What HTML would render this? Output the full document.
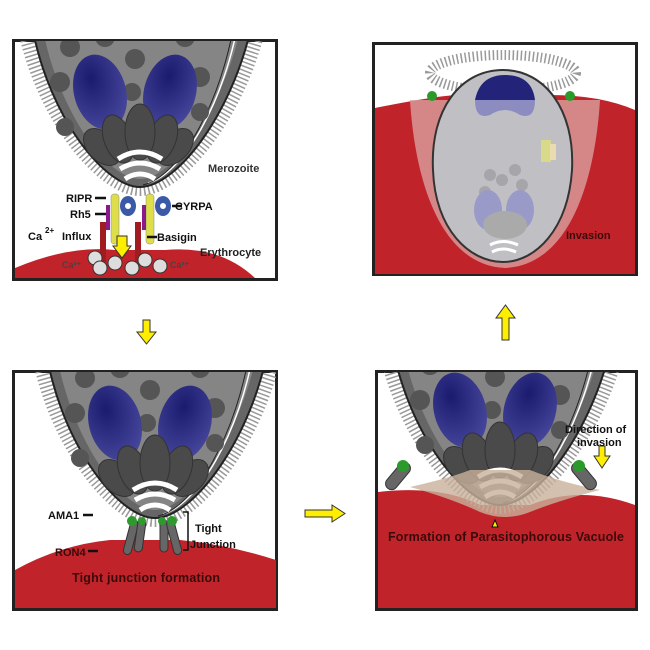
<!DOCTYPE html>
<html><head><style>html,body{margin:0;padding:0;background:#fff}svg{display:block}</style></head><body>
<svg width="650" height="650" viewBox="0 0 650 650" xmlns="http://www.w3.org/2000/svg" font-family="Liberation Sans, sans-serif" font-weight="bold">
<defs>
<radialGradient id="lob" cx="0.4" cy="0.3" r="0.8"><stop offset="0" stop-color="#1a1a6e"/><stop offset="1" stop-color="#4a4aa0"/></radialGradient>
<g id="mero">
 <path d="M-118,-175 C-105,-80 -40,2 0,2 C40,2 105,-80 122,-175" fill="none" stroke="#999" stroke-width="14" stroke-dasharray="1.5 2.5"/>
 <path d="M-110,-175 C-98,-80 -38,0 0,0 C38,0 98,-80 114,-175 Z" fill="#666" stroke="#222" stroke-width="2"/>
 <path d="M-100,-175 C-88,-85 -35,-8 0,-8 C35,-8 88,-85 104,-175 Z" fill="#858585"/>
 <path d="M8,-4 C40,-12 85,-80 100,-175" fill="none" stroke="#fff" stroke-width="1.5"/>
 <path d="M3,-2 C38,-10 82,-80 96,-175" fill="none" stroke="#222" stroke-width="1"/>
 <g fill="#555"><circle cx="-70" cy="-140" r="10"/><circle cx="-35" cy="-150" r="10"/><circle cx="-80" cy="-105" r="10"/><circle cx="-5" cy="-128" r="10"/><circle cx="45" cy="-150" r="10"/><circle cx="60" cy="-110" r="10"/><circle cx="-75" cy="-60" r="9"/><circle cx="60" cy="-75" r="9"/><circle cx="-8" cy="-95" r="9"/></g>
 <ellipse cx="-40" cy="-95" rx="26" ry="38" fill="url(#lob)" transform="rotate(-15 -40 -95)"/>
 <ellipse cx="30" cy="-95" rx="26" ry="38" fill="url(#lob)" transform="rotate(15 30 -95)"/>
 <g fill="#4a4a4a" stroke="#333"><ellipse cx="-38" cy="-40" rx="14" ry="22" transform="rotate(-45 -38 -40)"/><ellipse cx="35" cy="-40" rx="14" ry="22" transform="rotate(45 35 -40)"/><ellipse cx="-22" cy="-48" rx="14" ry="25" transform="rotate(-20 -22 -48)"/><ellipse cx="22" cy="-48" rx="14" ry="25" transform="rotate(20 22 -48)"/><ellipse cx="0" cy="-55" rx="15" ry="28"/></g>
 <path d="M-22,-28 Q0,-42 22,-28 M-20,-18 Q0,-30 20,-18 M-15,-8 Q0,-18 15,-8" stroke="#fff" stroke-width="5" fill="none"/>
</g>
<clipPath id="c1"><rect x="14" y="41" width="262" height="238"/></clipPath>
<clipPath id="c2"><rect x="375" y="44" width="261" height="230"/></clipPath>
<clipPath id="c3"><rect x="14" y="372" width="262" height="237"/></clipPath>
<clipPath id="c4"><rect x="377" y="372" width="259" height="237"/></clipPath>
</defs>

<rect x="12" y="39" width="266" height="242" fill="#222"/>
<rect x="15" y="42" width="260" height="236" fill="#fff"/>
<g clip-path="url(#c1)">
 <path d="M15,268 Q70,245 115,250 L165,250 Q220,245 255,278 L15,278 Z" fill="#c0242a"/>
 <use href="#mero" transform="translate(140,187)"/>
 <rect x="100" y="222" width="6" height="40" fill="#a01c20"/><rect x="135" y="222" width="6" height="40" fill="#a01c20"/>
 <g fill="#dede4a" stroke="#888" stroke-width="0.5"><rect x="111" y="194" width="8" height="50" rx="3"/><rect x="146" y="194" width="8" height="50" rx="3"/></g>
 <rect x="106" y="205" width="4" height="25" fill="#8a1a8a"/><rect x="142" y="205" width="4" height="25" fill="#8a1a8a"/>
 <g fill="#3a5aa8"><ellipse cx="128" cy="206" rx="8" ry="10"/><ellipse cx="163" cy="206" rx="8" ry="10"/></g>
 <g fill="#fff"><circle cx="128" cy="206" r="3"/><circle cx="163" cy="206" r="3"/></g>
 <polygon points="117,236 127,236 127,246 131,246 122,258 113,246 117,246" fill="#ffee00" stroke="#333"/>
 <g fill="#ddd" stroke="#333"><circle cx="95" cy="258" r="7"/><circle cx="100" cy="268" r="7"/><circle cx="115" cy="263" r="7"/><circle cx="132" cy="268" r="7"/><circle cx="145" cy="260" r="7"/><circle cx="160" cy="266" r="7"/></g>
 <g font-size="11" fill="#111"><text x="66" y="202">RIPR</text><text x="70" y="218">Rh5</text><text x="28" y="240">Ca</text><text x="45" y="233" font-size="8">2+</text><text x="62" y="240">Influx</text><text x="157" y="241">Basigin</text><text x="175" y="210">CYRPA</text><text x="208" y="172" fill="#333">Merozoite</text><text x="200" y="256" fill="#222">Erythrocyte</text><text x="62" y="268" font-size="9" fill="#444">Ca²⁺</text><text x="170" y="268" font-size="9" fill="#444">Ca²⁺</text></g>
 <g stroke="#111" stroke-width="2.5"><path d="M95,198 H106 M95,214 H106 M172,206 H182 M147,237 H157"/></g>
</g>

<rect x="372" y="42" width="266" height="234" fill="#222"/>
<rect x="375" y="45" width="260" height="228" fill="#fff"/>
<g clip-path="url(#c2)">
 <path d="M375,108 Q440,95 460,95 L550,95 Q600,95 635,110 L635,274 L375,274 Z" fill="#c0242a"/>
 <path d="M410,100 C415,180 440,265 505,268 C570,265 595,180 600,100 Z" fill="#d9a0a0" opacity="0.8"/>
 <ellipse cx="503" cy="73" rx="73" ry="18" fill="none" stroke="#999" stroke-width="10" stroke-dasharray="1.5 2.5"/>
 <path d="M503,70 C545,70 575,110 572,170 C568,230 535,262 503,262 C470,262 435,230 433,170 C430,110 460,70 503,70 Z" fill="#c0c0c4" stroke="#333" stroke-width="2"/>
 <path d="M475,100 Q480,75 505,75 Q532,75 535,100 Z" fill="#23237a"/>
 <path d="M475,100 H535 Q535,120 520,115 Q505,105 490,115 Q475,120 475,100 Z" fill="#8c8cc0"/>
 <g fill="#a5a5aa"><circle cx="490" cy="175" r="6"/><circle cx="502" cy="180" r="6"/><circle cx="515" cy="170" r="6"/><circle cx="485" cy="192" r="6"/><circle cx="522" cy="185" r="6"/></g>
 <ellipse cx="488" cy="210" rx="14" ry="20" fill="#9a9ac8"/><ellipse cx="520" cy="210" rx="14" ry="20" fill="#9a9ac8"/>
 <g fill="#aaa"><ellipse cx="505" cy="225" rx="22" ry="14"/></g>
 <path d="M490,245 Q503,238 518,245 M492,252 Q503,246 516,252" stroke="#fff" stroke-width="3" fill="none"/>
 <rect x="541" y="140" width="10" height="22" fill="#d9d98a"/><rect x="550" y="144" width="6" height="16" fill="#e8dcb0"/>
 <circle cx="432" cy="96" r="5" fill="#2a9a2a"/><circle cx="570" cy="96" r="5" fill="#2a9a2a"/>
 <text x="566" y="239" font-size="11" fill="#3a0a0a">Invasion</text>
</g>

<rect x="12" y="370" width="266" height="241" fill="#222"/>
<rect x="15" y="373" width="260" height="235" fill="#fff"/>
<g clip-path="url(#c3)">
 <path d="M15,570 Q60,545 110,540 L180,540 Q230,545 276,560 L276,608 L15,608 Z" fill="#c0242a"/>
 <use href="#mero" transform="translate(155,518)"/>
 <g fill="#666" stroke="#333"><rect x="127" y="520" width="8" height="35" rx="4" transform="rotate(15 131 537)"/><rect x="136" y="520" width="8" height="32" rx="4" transform="rotate(8 140 536)"/><rect x="160" y="520" width="8" height="32" rx="4"/><rect x="170" y="520" width="8" height="35" rx="4" transform="rotate(-15 174 537)"/></g>
 <g fill="#2e9a2e"><circle cx="132" cy="521" r="5"/><circle cx="142" cy="521" r="4"/><circle cx="162" cy="521" r="4"/><circle cx="172" cy="521" r="5"/></g>
 <path d="M183,512 H188 V550 H183" stroke="#111" stroke-width="1.5" fill="none"/>
 <g font-size="11" fill="#111"><text x="48" y="519">AMA1</text><text x="195" y="532">Tight</text><text x="190" y="548">Junction</text><text x="55" y="556" fill="#3a0a0a">RON4</text><text x="72" y="582" font-size="12.5" textLength="148" fill="#3a0a0a">Tight junction formation</text></g>
 <g stroke="#111" stroke-width="2.5"><path d="M83,515 H93 M88,551 H98"/></g>
</g>

<rect x="375" y="370" width="263" height="241" fill="#222"/>
<rect x="378" y="373" width="257" height="235" fill="#fff"/>
<g clip-path="url(#c4)">
 <path d="M378,492 Q440,485 480,505 L530,505 Q580,485 635,505 L635,608 L378,608 Z" fill="#c0242a"/>
 <use href="#mero" transform="translate(500,505)"/>
 <path d="M410,487 Q450,478 470,470 L530,470 Q560,482 600,490 Q560,500 530,512 Q505,522 480,512 Q450,498 410,487 Z" fill="#c9b09a" opacity="0.8"/>
 <g fill="#666" stroke="#333"><rect x="392" y="460" width="12" height="32" rx="6" transform="rotate(40 398 476)"/><rect x="578" y="460" width="12" height="32" rx="6" transform="rotate(-40 584 476)"/></g>
 <circle cx="403" cy="466" r="6" fill="#2a9a2a"/><circle cx="579" cy="466" r="6" fill="#2a9a2a"/>
 <polygon points="599,446 605,446 605,456 610,456 602,468 594,456 599,456" fill="#ffee00" stroke="#333"/>
 <polygon points="492,527 495,520 498,527" fill="#ffee00" stroke="#111"/>
 <g font-size="11" fill="#111"><text x="565" y="433">Direction of</text><text x="577" y="446">invasion</text><text x="388" y="541" font-size="12.5" textLength="236" fill="#3a0a0a">Formation of Parasitophorous Vacuole</text></g>
</g>

<polygon points="143,320 150,320 150,332 156,332 146.5,344 137,332 143,332" fill="#ffee00" stroke="#333"/>
<polygon points="305,510 332,510 332,505 345,513.5 332,522 332,517 305,517" fill="#ffee00" stroke="#333"/>
<polygon points="502,340 509,340 509,318 515,318 505.5,305 496,318 502,318" fill="#ffee00" stroke="#333"/>
</svg>
</body></html>
